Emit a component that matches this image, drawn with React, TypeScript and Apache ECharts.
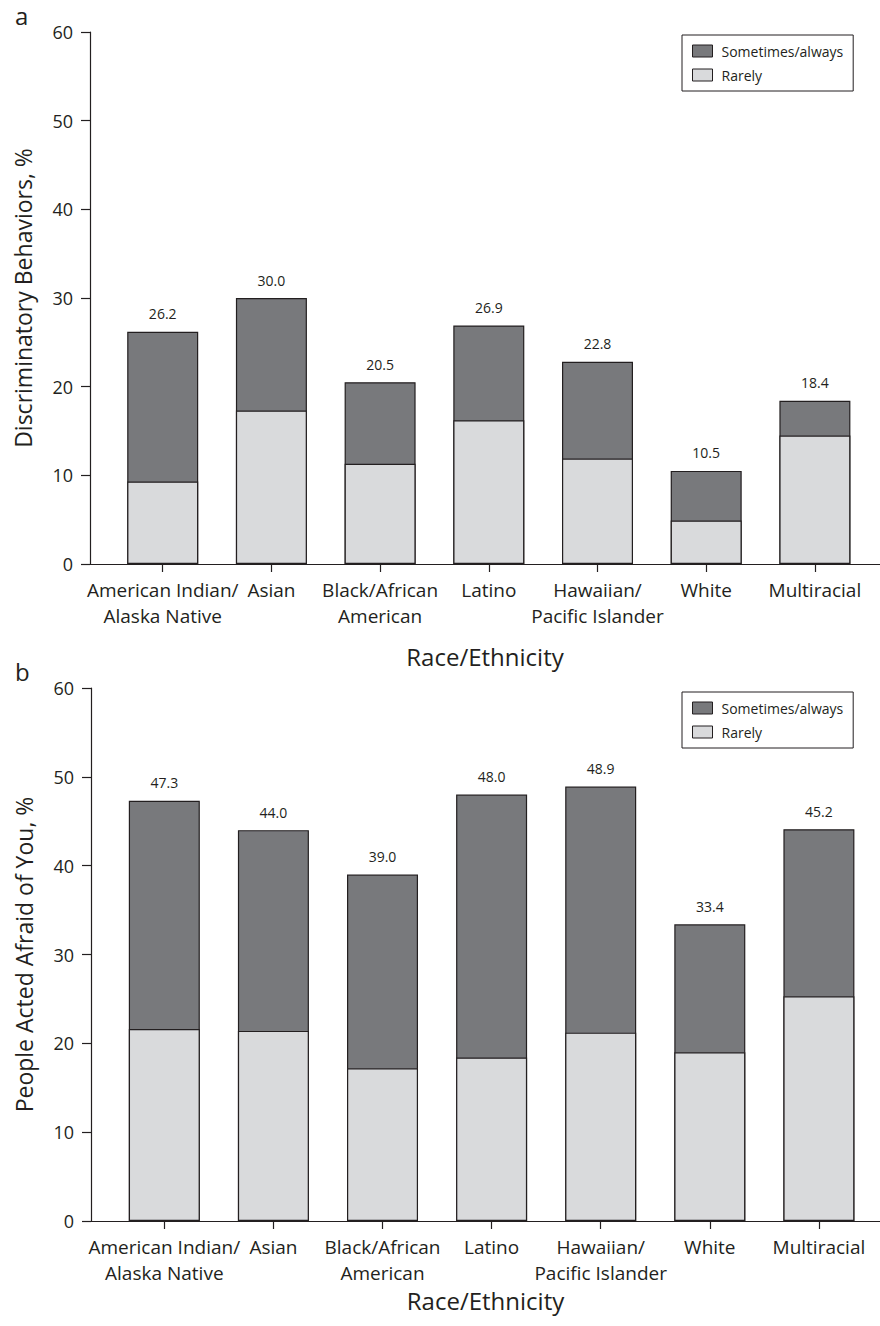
import React, { useEffect, useRef } from "react";
import * as echarts from "echarts";

const categories = [
  "American Indian/\nAlaska Native",
  "Asian",
  "Black/African\nAmerican",
  "Latino",
  "Hawaiian/\nPacific Islander",
  "White",
  "Multiracial",
];
const seriesNames = ["Sometimes/always", "Rarely"];

// Panel a: Discriminatory behaviors
const rarelyA = [9.3, 17.3, 11.3, 16.2, 11.9, 4.9, 14.5];
const sometimesA = [16.9, 12.7, 9.2, 10.7, 10.9, 5.6, 3.9];
const totalLabelsA = [26.2, 30.0, 20.5, 26.9, 22.8, 10.5, 18.4];

// Panel b: People acted afraid of you
const rarelyB = [21.6, 21.4, 17.2, 18.4, 21.2, 19.0, 25.3];
const sometimesB = [25.7, 22.6, 21.8, 29.6, 27.7, 14.4, 18.8];
const totalLabelsB = [47.3, 44.0, 39.0, 48.0, 48.9, 33.4, 45.2];

const panelLetters = ["a", "b"];
const yTitles = ["Discriminatory Behaviors, %", "People Acted Afraid of You, %"];
const xTitle = "Race/Ethnicity";

const FONT = "'Open Sans', sans-serif";
const INK = "#231f20";
const DARK = "#78797c";
const LIGHT = "#d9dadc";

export default function App() {
  const ref = useRef<HTMLDivElement>(null);

  useEffect(() => {
    if (!ref.current) return;
    const chart = echarts.init(ref.current, undefined, { renderer: "svg" });

    const idx = categories.map((_, i) => i);

    const panels = [
      { rarely: rarelyA, sometimes: sometimesA, labels: totalLabelsA, grid: { left: 90, top: 32, height: 532, right: 0 }, xMin: -0.669, xMax: 6.599, legendTop: 35, xNameGap: 80 },
      { rarely: rarelyB, sometimes: sometimesB, labels: totalLabelsB, grid: { left: 91, top: 688, height: 533, right: 0 }, xMin: -0.672, xMax: 6.56, legendTop: 692, xNameGap: 67 },
    ];

    const option: any = {
      animation: false,
      textStyle: { fontFamily: FONT, color: INK },
      grid: panels.map((p) => ({ ...p.grid, containLabel: false })),
      xAxis: panels.map((p, gi) => ({
        type: "value",
        gridIndex: gi,
        min: p.xMin,
        max: p.xMax,
        splitLine: { show: false },
        axisLine: { show: true, onZero: false, lineStyle: { color: INK, width: 1.2 } },
        axisTick: { show: true, customValues: idx, length: 8, lineStyle: { color: INK, width: 1.2 } },
        axisLabel: {
          customValues: idx,
          formatter: (v: number) => categories[Math.round(v)],
          fontFamily: FONT,
          fontSize: 19,
          lineHeight: 26,
          color: INK,
          margin: 13,
        },
        name: xTitle,
        nameLocation: "middle",
        nameGap: p.xNameGap,
        nameTextStyle: { fontFamily: FONT, fontSize: 24, color: INK },
      })),
      yAxis: panels.map((p, gi) => ({
        type: "value",
        gridIndex: gi,
        min: 0,
        max: 60,
        interval: 10,
        splitLine: { show: false },
        axisLine: { show: true, onZero: false, lineStyle: { color: INK, width: 1.2 } },
        axisTick: { show: true, length: 9, lineStyle: { color: INK, width: 1.2 } },
        axisLabel: { fontFamily: FONT, fontSize: 18, color: INK, margin: 17 },
        name: yTitles[gi],
        nameLocation: "middle",
        nameGap: 56,
        nameTextStyle: { fontFamily: FONT, fontSize: 23, color: INK },
      })),
      legend: panels.map((p) => ({
        data: seriesNames,
        orient: "vertical",
        left: 682,
        top: p.legendTop,
        padding: [9, 10, 9, 10],
        itemGap: 10,
        itemWidth: 20,
        itemHeight: 12,
        icon: "rect",
        borderColor: INK,
        borderWidth: 1,
        itemStyle: { borderColor: INK, borderWidth: 1 },
        textStyle: { fontFamily: FONT, fontSize: 14, color: INK, padding: [0, 0, 0, 4] },
      })),
      graphic: panelLetters.map((t, gi) => ({
        type: "text",
        left: 15,
        top: gi === 0 ? 3 : 659,
        style: { text: t, font: `24px ${FONT}`, fill: INK },
      })),
      series: panels.flatMap((p, gi) => [
        {
          name: seriesNames[0],
          type: "bar",
          xAxisIndex: gi,
          yAxisIndex: gi,
          barWidth: 71,
          barGap: "-100%",
          data: idx.map((i) => [i, +(p.rarely[i] + p.sometimes[i]).toFixed(2)]),
          itemStyle: { color: DARK, borderColor: INK, borderWidth: 1.2 },
          label: {
            show: true,
            position: "top",
            distance: 11,
            fontFamily: FONT,
            fontSize: 14,
            color: INK,
            formatter: (q: any) => p.labels[q.dataIndex].toFixed(1),
          },
          z: 2,
        },
        {
          name: seriesNames[1],
          type: "bar",
          xAxisIndex: gi,
          yAxisIndex: gi,
          barWidth: 71,
          barGap: "-100%",
          data: idx.map((i) => [i, p.rarely[i]]),
          itemStyle: { color: LIGHT, borderColor: INK, borderWidth: 1.2 },
          z: 3,
        },
      ]),
    };

    chart.setOption(option);
    return () => chart.dispose();
  }, []);

  return (
    <div
      ref={ref}
      style={{ position: "absolute", left: 0, top: 0, width: 880, height: 1326, background: "#fff" }}
    />
  );
}
